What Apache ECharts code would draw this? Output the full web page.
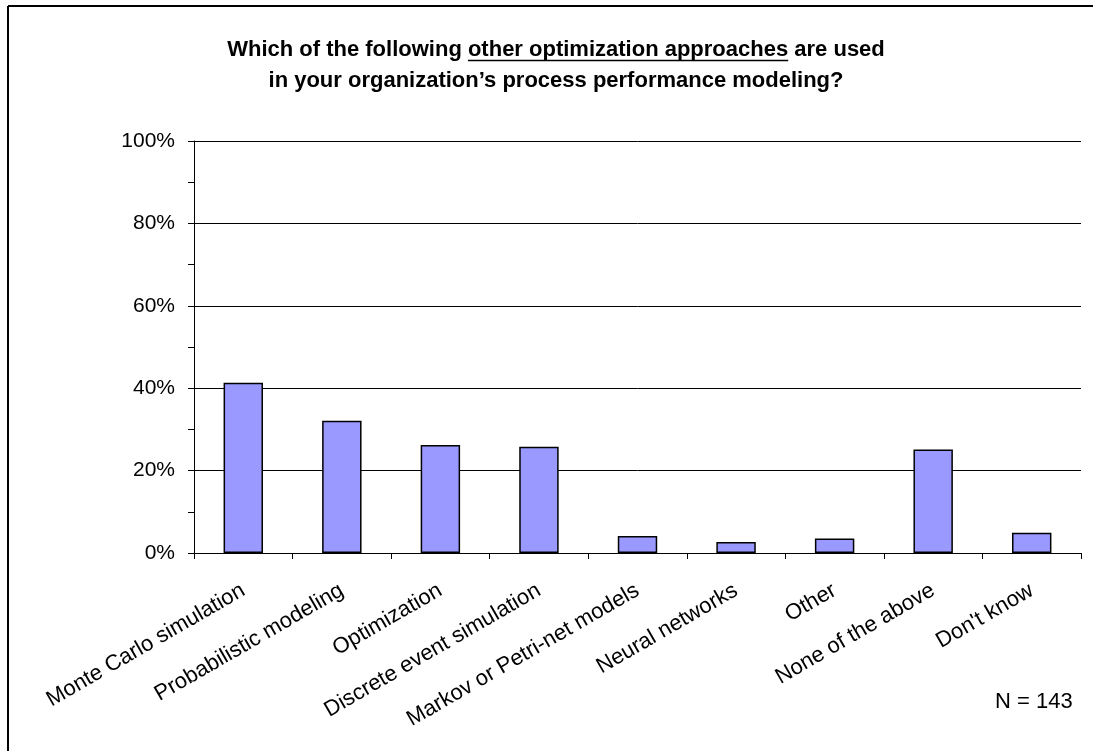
<!DOCTYPE html>
<html>
<head>
<meta charset="utf-8">
<script src="https://cdn.jsdelivr.net/npm/echarts@6/dist/echarts.min.js"></script>
<style>
  html, body { margin: 0; padding: 0; background: #fff; }
  #chart { width: 1093px; height: 751px; }
</style>
</head>
<body>
<div id="chart"></div>
<script>
  // categories and shares (percent of respondents)
  const categories = ['Monte Carlo simulation', 'Probabilistic modeling', 'Optimization',
    'Discrete event simulation', 'Markov or Petri-net models', 'Neural networks',
    'Other', 'None of the above', "Don't know"];
  const shares = [41.3, 32.1, 26.2, 25.8, 4.1, 2.7, 3.5, 25.1, 4.9];
  const yTicks = [0, 20, 40, 60, 80, 100];

  const font = '"Liberation Sans", Arial, sans-serif';
  const titleX = 556;
  const titleLine1 = 'Which of the following other optimization approaches are used';
  const titleLine2 = 'in your organization’s process performance modeling?';

  // measure where the underlined phrase sits in line 1
  const ctx = document.createElement('canvas').getContext('2d');
  ctx.font = 'bold 22px ' + font;
  const before = ctx.measureText('Which of the following ').width;
  const phrase = ctx.measureText('other optimization approaches').width;
  const total = ctx.measureText(titleLine1).width;
  const ulX = titleX - total / 2 + before;

  let chart = echarts.init(document.getElementById('chart'));

  chart.setOption({
    animation: false,
    backgroundColor: '#fff',
    graphic: [
      // frame (only top and left edges fall inside the picture)
      { type: 'line', shape: { x1: 8, y1: 6, x2: 1093, y2: 6 }, style: { stroke: '#000', lineWidth: 2 } },
      { type: 'line', shape: { x1: 8, y1: 6, x2: 8, y2: 751 }, style: { stroke: '#000', lineWidth: 2 } },
      {
        type: 'text', x: titleX, y: 50,
        style: { text: titleLine1, font: 'bold 22px ' + font, fill: '#000', textAlign: 'center', textVerticalAlign: 'middle' }
      },
      {
        type: 'text', x: titleX, y: 81,
        style: { text: titleLine2, font: 'bold 22px ' + font, fill: '#000', textAlign: 'center', textVerticalAlign: 'middle' }
      },
      { type: 'line', shape: { x1: ulX, y1: 60.5, x2: ulX + phrase, y2: 60.5 }, style: { stroke: '#000', lineWidth: 1.5 } },
      {
        type: 'text', x: 995, y: 702,
        style: { text: 'N = 143', font: '22px ' + font, fill: '#000', textVerticalAlign: 'middle' }
      }
    ],
    grid: { left: 194, right: 12, top: 141, bottom: 198 },
    xAxis: {
      type: 'category',
      data: categories,
      axisLine: { lineStyle: { color: '#000', width: 1 } },
      axisTick: { show: true, length: 6, lineStyle: { color: '#000' } },
      axisLabel: {
        rotate: 30, interval: 0, margin: 36,
        fontFamily: font, fontSize: 22, color: '#000'
      }
    },
    yAxis: {
      type: 'value',
      min: 0, max: 100, interval: 20,
      axisLine: { show: true, lineStyle: { color: '#000' } },
      axisTick: { show: true, length: 6, lineStyle: { color: '#000' } },
      minorTick: { show: true, splitNumber: 2, length: 6, lineStyle: { color: '#000' } },
      splitLine: { show: true, lineStyle: { color: '#000', width: 1 } },
      axisLabel: {
        margin: 19, fontFamily: font, fontSize: 21, color: '#000',
        formatter: v => yTicks.includes(v) ? v + '%' : ''
      }
    },
    series: [{
      type: 'bar',
      data: shares,
      barWidth: '40%',
      itemStyle: { color: '#9999ff', borderColor: '#000', borderWidth: 1.5 }
    }]
  });
</script>
</body>
</html>
